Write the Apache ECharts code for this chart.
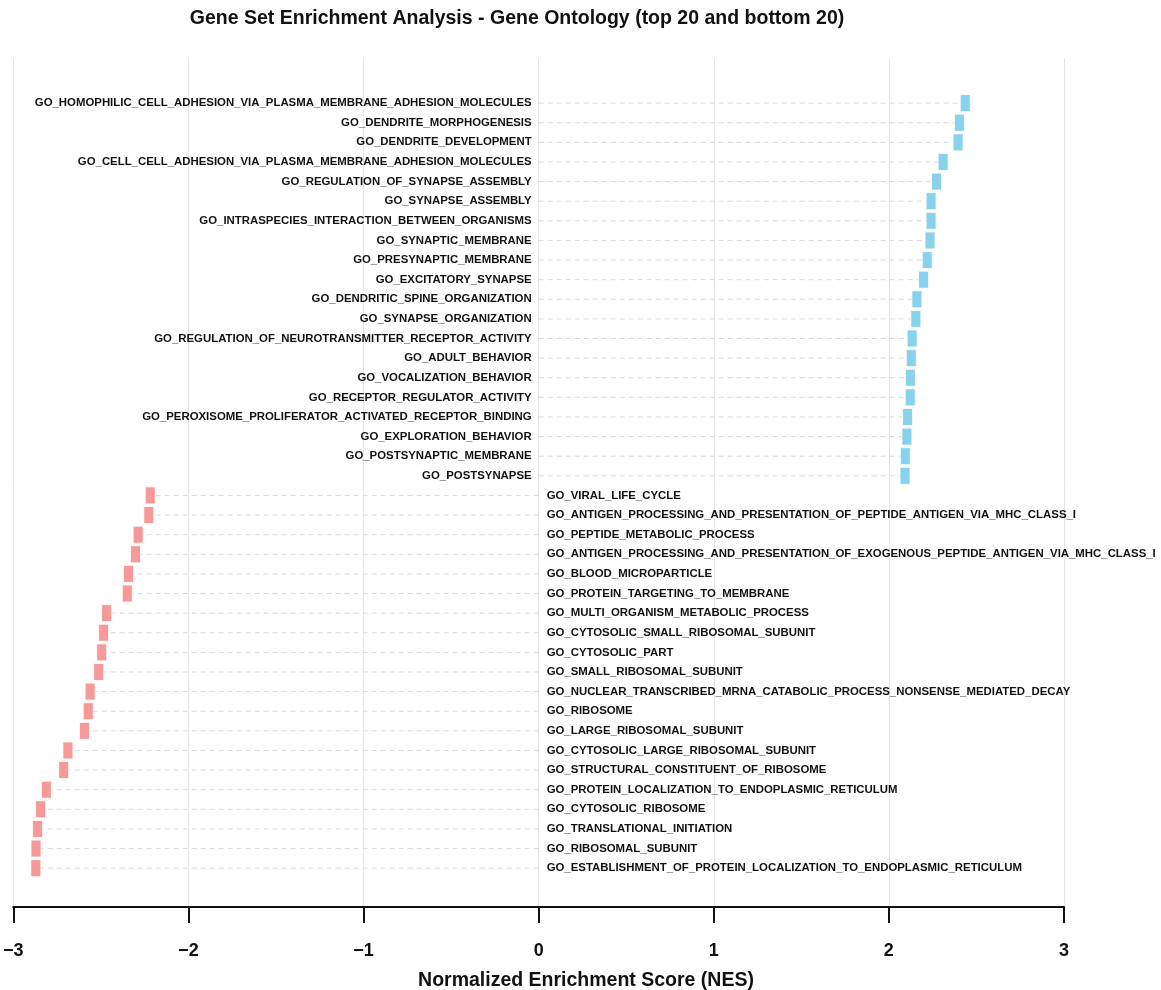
<!DOCTYPE html>
<html>
<head>
<meta charset="utf-8">
<script src="https://cdn.jsdelivr.net/npm/echarts@6/dist/echarts.min.js"></script>
<style>html,body{margin:0;padding:0;background:#fff}#c{width:1161px;height:990px}</style>
</head>
<body>
<div id="c"></div>
<script>
const terms = [
  "GO_HOMOPHILIC_CELL_ADHESION_VIA_PLASMA_MEMBRANE_ADHESION_MOLECULES",
  "GO_DENDRITE_MORPHOGENESIS",
  "GO_DENDRITE_DEVELOPMENT",
  "GO_CELL_CELL_ADHESION_VIA_PLASMA_MEMBRANE_ADHESION_MOLECULES",
  "GO_REGULATION_OF_SYNAPSE_ASSEMBLY",
  "GO_SYNAPSE_ASSEMBLY",
  "GO_INTRASPECIES_INTERACTION_BETWEEN_ORGANISMS",
  "GO_SYNAPTIC_MEMBRANE",
  "GO_PRESYNAPTIC_MEMBRANE",
  "GO_EXCITATORY_SYNAPSE",
  "GO_DENDRITIC_SPINE_ORGANIZATION",
  "GO_SYNAPSE_ORGANIZATION",
  "GO_REGULATION_OF_NEUROTRANSMITTER_RECEPTOR_ACTIVITY",
  "GO_ADULT_BEHAVIOR",
  "GO_VOCALIZATION_BEHAVIOR",
  "GO_RECEPTOR_REGULATOR_ACTIVITY",
  "GO_PEROXISOME_PROLIFERATOR_ACTIVATED_RECEPTOR_BINDING",
  "GO_EXPLORATION_BEHAVIOR",
  "GO_POSTSYNAPTIC_MEMBRANE",
  "GO_POSTSYNAPSE",
  "GO_VIRAL_LIFE_CYCLE",
  "GO_ANTIGEN_PROCESSING_AND_PRESENTATION_OF_PEPTIDE_ANTIGEN_VIA_MHC_CLASS_I",
  "GO_PEPTIDE_METABOLIC_PROCESS",
  "GO_ANTIGEN_PROCESSING_AND_PRESENTATION_OF_EXOGENOUS_PEPTIDE_ANTIGEN_VIA_MHC_CLASS_I",
  "GO_BLOOD_MICROPARTICLE",
  "GO_PROTEIN_TARGETING_TO_MEMBRANE",
  "GO_MULTI_ORGANISM_METABOLIC_PROCESS",
  "GO_CYTOSOLIC_SMALL_RIBOSOMAL_SUBUNIT",
  "GO_CYTOSOLIC_PART",
  "GO_SMALL_RIBOSOMAL_SUBUNIT",
  "GO_NUCLEAR_TRANSCRIBED_MRNA_CATABOLIC_PROCESS_NONSENSE_MEDIATED_DECAY",
  "GO_RIBOSOME",
  "GO_LARGE_RIBOSOMAL_SUBUNIT",
  "GO_CYTOSOLIC_LARGE_RIBOSOMAL_SUBUNIT",
  "GO_STRUCTURAL_CONSTITUENT_OF_RIBOSOME",
  "GO_PROTEIN_LOCALIZATION_TO_ENDOPLASMIC_RETICULUM",
  "GO_CYTOSOLIC_RIBOSOME",
  "GO_TRANSLATIONAL_INITIATION",
  "GO_RIBOSOMAL_SUBUNIT",
  "GO_ESTABLISHMENT_OF_PROTEIN_LOCALIZATION_TO_ENDOPLASMIC_RETICULUM"
];
const nes = [
  2.436, 2.403, 2.395, 2.310, 2.272, 2.241, 2.241, 2.235, 2.219, 2.198,
  2.160, 2.154, 2.133, 2.128, 2.123, 2.122, 2.107, 2.103, 2.094, 2.092,
  -2.218, -2.226, -2.287, -2.302, -2.342, -2.349, -2.467, -2.484, -2.495, -2.512,
  -2.561, -2.572, -2.593, -2.688, -2.712, -2.811, -2.844, -2.861, -2.870, -2.871
];
const xTicks = [-3, -2, -1, 0, 1, 2, 3];
const posColor = '#88d2eb';
const negColor = '#f59a98';

const data = nes.map((v, i) => [v, i]);
const chart = echarts.init(document.getElementById('c'), null, {renderer: 'canvas'});
const F = '"Liberation Sans", Arial, Helvetica, sans-serif';
chart.setOption({
  animation: false,
  backgroundColor: '#ffffff',
  grid: {left: 12, right: 97, top: 58, bottom: 83, containLabel: false},
  xAxis: {
    type: 'value', min: xTicks[0], max: xTicks[xTicks.length - 1], interval: 1,
    axisLine: {show: true, onZero: false, lineStyle: {color: '#111', width: 2}},
    axisTick: {show: true, length: 16, lineStyle: {color: '#111', width: 2}},
    axisLabel: {
      margin: 35, color: '#111', fontSize: 18, fontWeight: 'bold', fontFamily: F,
      formatter: v => v < 0 ? '\u2212' + Math.abs(v) : String(v)
    },
    splitLine: {show: true, lineStyle: {color: '#e4e4e4', width: 1}}
  },
  yAxis: {
    type: 'value', min: -2.3, max: 40.98, inverse: true,
    show: false, splitLine: {show: false}
  },
  graphic: [
    {type: 'text', x: 517, y: 19, style: {
      text: 'Gene Set Enrichment Analysis - Gene Ontology (top 20 and bottom 20)',
      font: 'bold 19.5px ' + F, fill: '#111', textAlign: 'center', textVerticalAlign: 'middle'}},
    {type: 'text', x: 586, y: 981, style: {
      text: 'Normalized Enrichment Score (NES)', font: 'bold 19.5px ' + F,
      fill: '#111', textAlign: 'center', textVerticalAlign: 'middle'}}
  ],
  series: [{
    type: 'custom',
    clip: false,
    data: data,
    encode: {x: 0, y: 1},
    renderItem: function (params, api) {
      const v = api.value(0), i = api.value(1);
      const p0 = api.coord([0, i]);
      const p1 = api.coord([v, i]);
      const pos = v >= 0;
      const idx = params.dataIndex;
      return {
        type: 'group',
        children: [
          {type: 'line', shape: {x1: p0[0], y1: p0[1], x2: p1[0], y2: p1[1]},
           style: {stroke: '#d9d9d9', lineWidth: 1, lineDash: [5, 4]}},
          {type: 'text', x: pos ? p0[0] - 7 : p0[0] + 8, y: p0[1],
           style: {text: terms[idx], font: 'bold 11.4px ' + F, fill: '#111',
                   textAlign: pos ? 'right' : 'left', textVerticalAlign: 'middle'}},
          {type: 'rect', shape: {x: p1[0] - 5, y: p1[1] - 8.5, width: 10, height: 17},
           style: {fill: pos ? posColor : negColor, stroke: '#ffffff', lineWidth: 0.8}}
        ]
      };
    }
  }]
});
</script>
</body>
</html>
